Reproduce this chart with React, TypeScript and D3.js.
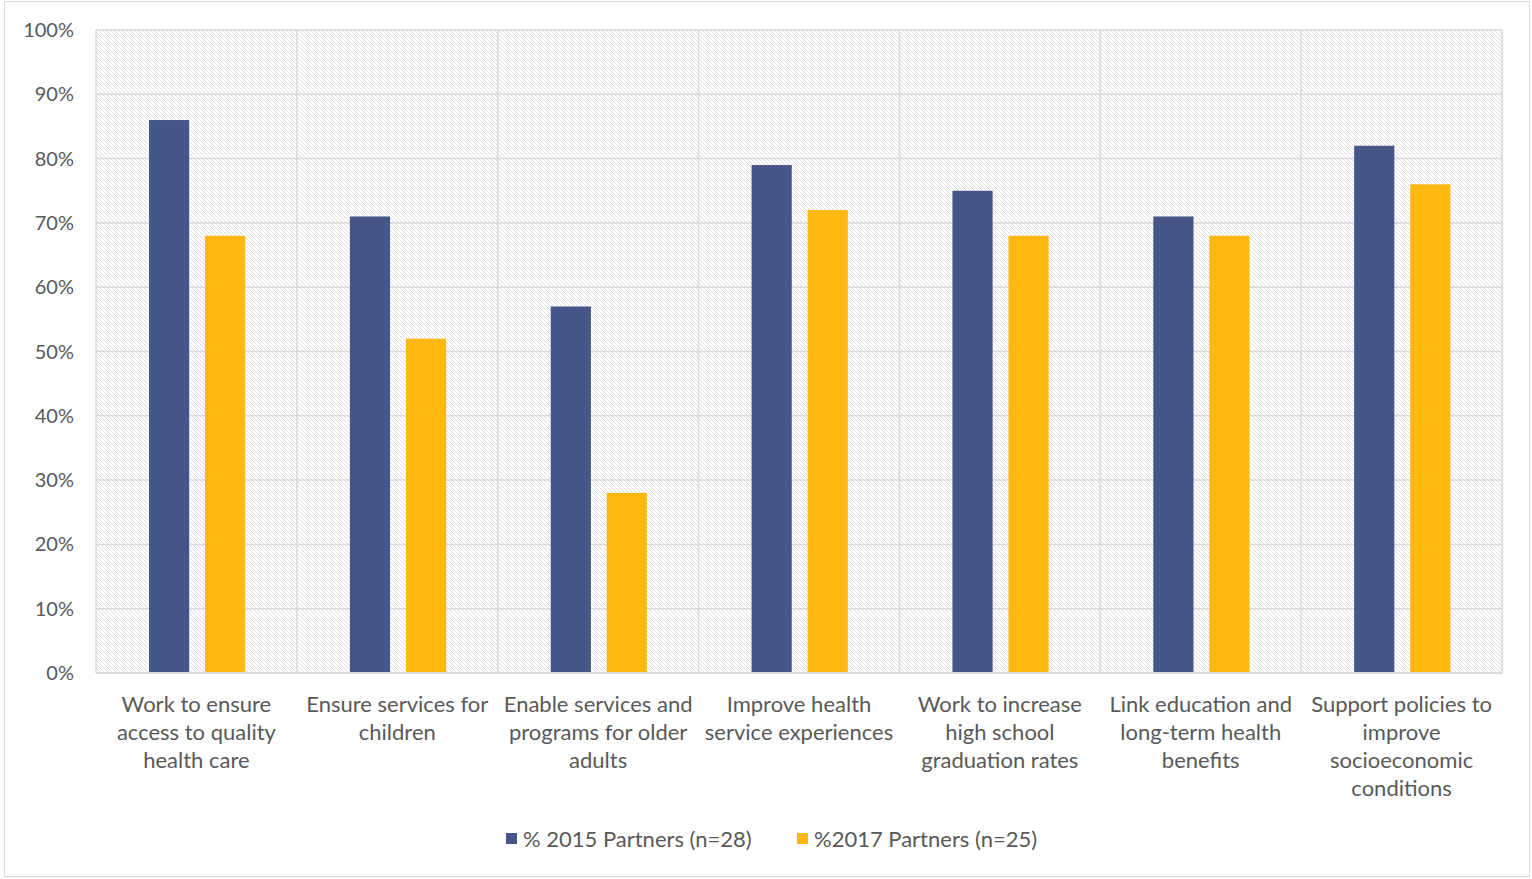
import React from "react";
import * as d3 from "d3";

const categories: string[][] = [
  ["Work to ensure", "access to quality", "health care"],
  ["Ensure services for", "children"],
  ["Enable services and", "programs for older", "adults"],
  ["Improve health", "service experiences"],
  ["Work to increase", "high school", "graduation rates"],
  ["Link education and", "long-term health", "benefits"],
  ["Support policies to", "improve", "socioeconomic", "conditions"],
];
const series2015: number[] = [86, 71, 57, 79, 75, 71, 82];
const series2017: number[] = [68, 52, 28, 72, 68, 68, 76];
const yTicks: number[] = [0, 10, 20, 30, 40, 50, 60, 70, 80, 90, 100];
const legendLabels: string[] = ["% 2015 Partners (n=28)", "%2017 Partners (n=25)"];

const W = 1532;
const H = 879;
const left = 96;
const right = 1502;
const top = 30;
const bottom = 673;
const BLUE = "#465689";
const ORANGE = "#FFB711";
const TEXT = "#595959";
const GRID = "#d9d9d9";
const FONT = "'Lato', 'Open Sans', sans-serif";

export default function App() {
  const idx = categories.map((_, i) => String(i));
  const x = d3.scaleBand<string>().domain(idx).range([left, right]).padding(0);
  const y = d3.scaleLinear().domain([0, 100]).range([bottom, top]);
  const bw = x.bandwidth();
  const barW = bw * 0.2;
  const off1 = bw * 0.264;
  const off2 = bw * 0.543;

  return (
    <svg width={W} height={H} style={{ position: "absolute", left: 0, top: 0, fontFamily: FONT }}>
      <defs>
        <pattern id="hatch" width="4" height="4" patternUnits="userSpaceOnUse">
          <rect width="4" height="4" fill="#ffffff" />
          <path d="M-1,-1 L5,5 M-1,3 L1,5 M3,-1 L5,1" stroke="#dedede" strokeWidth="1" />
        </pattern>
      </defs>
      <rect x={0} y={0} width={W} height={H} fill="#ffffff" />
      <rect x={4.5} y={1.5} width={1525} height={875} fill="none" stroke="#d9d9d9" strokeWidth={1} />
      <rect x={left} y={top} width={right - left} height={bottom - top} fill="url(#hatch)" />
      {yTicks.map((t) => (
        <line key={"g" + t} x1={left} x2={right} y1={y(t)} y2={y(t)} stroke={GRID} strokeWidth={1.5} />
      ))}
      {idx.map((k) => (
        <line key={"v" + k} x1={x(k)!} x2={x(k)!} y1={top} y2={bottom} stroke={GRID} strokeWidth={1.5} />
      ))}
      <line x1={right} x2={right} y1={top} y2={bottom} stroke={GRID} strokeWidth={1.5} />
      {idx.map((k, i) => (
        <g key={"b" + k}>
          <rect x={x(k)! + off1} y={y(series2015[i])} width={barW} height={y(0) - y(series2015[i])} fill={BLUE} />
          <rect x={x(k)! + off2} y={y(series2017[i])} width={barW} height={y(0) - y(series2017[i])} fill={ORANGE} />
        </g>
      ))}
      <line x1={left} x2={right} y1={bottom} y2={bottom} stroke={GRID} strokeWidth={2} />
      {yTicks.map((t) => (
        <text key={"t" + t} x={74} y={y(t)} dy="0.35em" textAnchor="end" fontSize={20} fill={TEXT}>
          {t}%
        </text>
      ))}
      {idx.map((k, i) => (
        <text key={"c" + k} x={x(k)! + bw / 2} y={704} textAnchor="middle" fontSize={22} fill={TEXT}>
          {categories[i].map((line, j) => (
            <tspan key={j} x={x(k)! + bw / 2} y={704 + j * 28} dy="0.35em">
              {line}
            </tspan>
          ))}
        </text>
      ))}
      <rect x={506} y={833} width={11} height={11} fill={BLUE} />
      <text x={523} y={839} dy="0.35em" fontSize={22} fill={TEXT}>{legendLabels[0]}</text>
      <rect x={797} y={833} width={11} height={11} fill={ORANGE} />
      <text x={814} y={839} dy="0.35em" fontSize={22} fill={TEXT}>{legendLabels[1]}</text>
    </svg>
  );
}
